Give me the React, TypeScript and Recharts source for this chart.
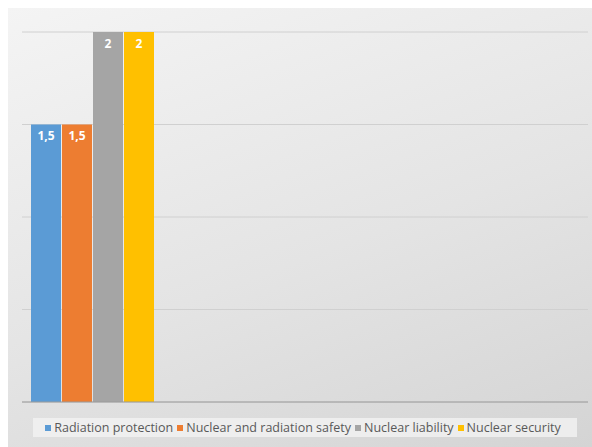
import { Bar, BarChart, CartesianGrid, LabelList, Legend, ReferenceLine, XAxis, YAxis } from "recharts";

const categories = ["1", "2", "3", "4"];
const radiationProtection = [1.5, null, null, null];
const nuclearRadiationSafety = [1.5, null, null, null];
const nuclearLiability = [2, null, null, null];
const nuclearSecurity = [2, null, null, null];
const yTicks = [0, 0.5, 1, 1.5, 2];

const series = [
  { key: "rp", name: "Radiation protection", color: "#5b9bd5" },
  { key: "nrs", name: "Nuclear and radiation safety", color: "#ed7d31" },
  { key: "nl", name: "Nuclear liability", color: "#a5a5a5" },
  { key: "ns", name: "Nuclear security", color: "#ffc000" },
];

const data = categories.map((c, i) => ({
  category: c,
  rp: radiationProtection[i],
  nrs: nuclearRadiationSafety[i],
  nl: nuclearLiability[i],
  ns: nuclearSecurity[i],
}));

const font = "'Open Sans', 'DejaVu Sans', sans-serif";

function LegendBox() {
  return (
    <div
      style={{
        background: "rgba(242,242,242,0.8)",
        height: 19,
        display: "flex",
        alignItems: "center",
        justifyContent: "center",
        fontFamily: font,
        fontSize: 12.5,
        color: "#595959",
        whiteSpace: "nowrap",
      }}
    >
      {series.map((s) => (
        <span key={s.key} style={{ display: "inline-flex", alignItems: "center", marginRight: 4 }}>
          <span style={{ width: 6, height: 6, background: s.color, display: "inline-block", marginRight: 3 }} />
          {s.name}
        </span>
      ))}
    </div>
  );
}

export default function App() {
  return (
    <div
      style={{
        position: "fixed",
        left: 8,
        top: 8,
        width: 584,
        height: 439,
        background: "linear-gradient(160deg, #f4f4f4 0%, #e4e4e4 55%, #d4d4d4 100%)",
      }}
    >
      <BarChart
        width={584}
        height={439}
        data={data}
        margin={{ top: 24, right: 4, bottom: 26, left: 14 }}
        barCategoryGap={9}
        barGap={1}
      >
        <CartesianGrid vertical={false} stroke="#d0d0d0" />
        <XAxis dataKey="category" tick={false} tickLine={false} height={0} axisLine={false} />
        <YAxis hide domain={[0, 2]} ticks={yTicks} width={0} />
        <ReferenceLine y={0} stroke="#9a9a9a" />
        <Legend
          content={<LegendBox />}
          verticalAlign="bottom"
          wrapperStyle={{ left: 25, width: 544, bottom: 10 }}
        />
        {series.map((s) => (
          <Bar key={s.key} dataKey={s.key} name={s.name} fill={s.color} isAnimationActive={false}>
            <LabelList
              dataKey={s.key}
              position="insideTop"
              offset={7}
              fill="#ffffff"
              fontFamily={font}
              fontSize={12}
              fontWeight="bold"
              formatter={(v: any) => (v == null ? "" : String(v).replace(".", ","))}
            />
          </Bar>
        ))}
      </BarChart>
    </div>
  );
}
